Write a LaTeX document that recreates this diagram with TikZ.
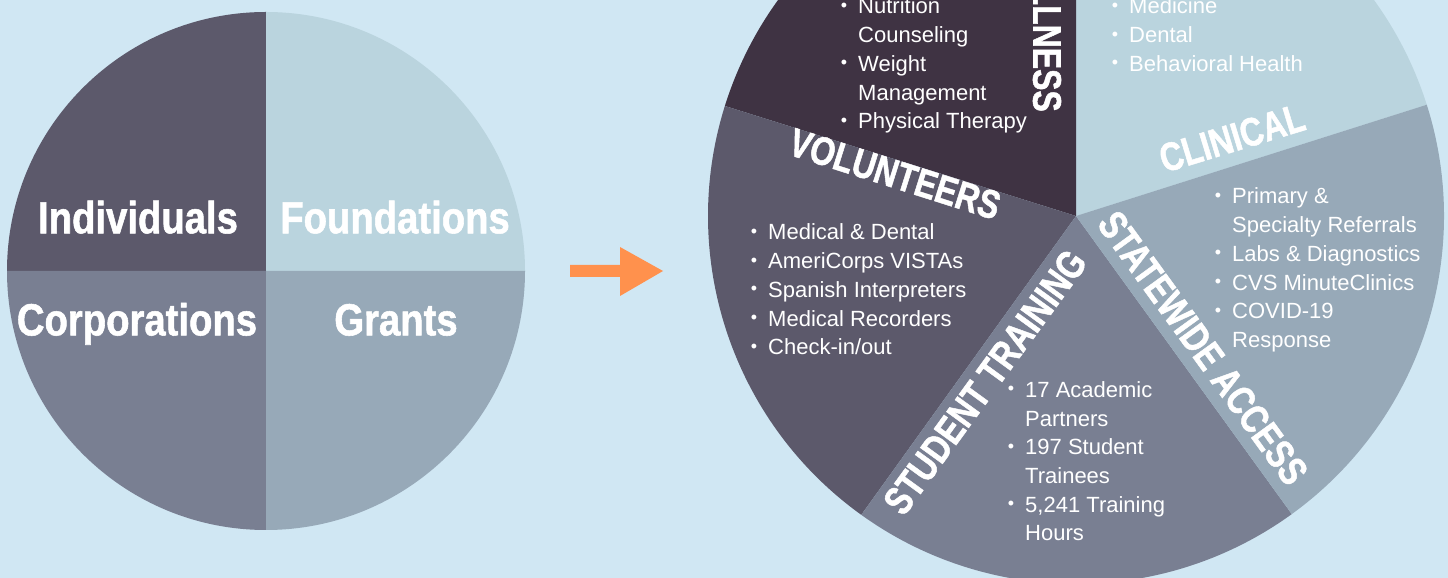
\documentclass[tikz,border=0pt]{standalone}
\usepackage{fontspec}
\setmainfont{Liberation Sans}
\newfontfamily\condfontL[FakeStretch=0.85,FakeBold=1.2]{Liberation Sans}
\newfontfamily\condfontR[FakeStretch=0.8,FakeBold=1.2]{Liberation Sans}
\definecolor{bgcol}{HTML}{D0E7F3}
\definecolor{cIndiv}{HTML}{5C596B}
\definecolor{cFound}{HTML}{BAD4DE}
\definecolor{cCorp}{HTML}{797F92}
\definecolor{cGrant}{HTML}{97A9B8}
\definecolor{cWell}{HTML}{3F3343}
\definecolor{cArrow}{HTML}{FF914D}
\newcommand\lbul{\llap{\raisebox{2.5pt}{\fontsize{18}{18}\selectfont\textbullet}\hspace{11pt}}}
\begin{document}
\begin{tikzpicture}[x=1pt,y=1pt,
  bigl/.style={text=white, font=\condfontL\bfseries\fontsize{45}{50}\selectfont, inner sep=0pt, anchor=base},
  seclabel/.style={text=white, font=\condfontR\bfseries\fontsize{40}{44}\selectfont, inner sep=0pt},
  blist/.style={text=white, font=\fontsize{22}{28.7}\selectfont, inner sep=0pt, anchor=base west}
]
\useasboundingbox (0,0) rectangle (1448,578);
\fill[bgcol] (0,0) rectangle (1448,578);
\clip (0,0) rectangle (1448,578);

% left pie
\coordinate (L) at (266,307);
\fill[cIndiv] (L) -- ++(90:259) arc[start angle=90, end angle=180, radius=259] -- cycle;
\fill[cFound] (L) -- ++(0:259) arc[start angle=0, end angle=90, radius=259] -- cycle;
\fill[cCorp] (L) -- ++(180:259) arc[start angle=180, end angle=270, radius=259] -- cycle;
\fill[cGrant] (L) -- ++(270:259) arc[start angle=270, end angle=360, radius=259] -- cycle;

\node[bigl] (indiv) at (138,344.7) {Individuals};
\node[bigl] (found) at (395,344.7) {Foundations};
\node[bigl] (corp) at (137,242.6) {Corporations};
\node[bigl] (grant) at (396,242.6) {Grants};

% arrow
\fill[cArrow] (570,301) -- (620,301) -- (620,282) -- (663,307) -- (620,331) -- (620,313) -- (570,313) -- cycle;

% right pie
\coordinate (R) at (1076,362);
\def\rr{368}
\fill[cFound] (R) -- ++(17.6:\rr) arc[start angle=17.6, end angle=90, radius=\rr] -- cycle;
\fill[cWell] (R) -- ++(90:\rr) arc[start angle=90, end angle=162.6, radius=\rr] -- cycle;
\fill[cIndiv] (R) -- ++(162.6:\rr) arc[start angle=162.6, end angle=234.3, radius=\rr] -- cycle;
\fill[cCorp] (R) -- ++(234.3:\rr) arc[start angle=234.3, end angle=305.9, radius=\rr] -- cycle;
\fill[cGrant] (R) -- ++(305.9:\rr) arc[start angle=305.9, end angle=377.6, radius=\rr] -- cycle;

% section labels
\node[seclabel, rotate=-90, anchor=east] (well) at (1047,466) {WELLNESS};
\node[seclabel, rotate=17] (clin) at (1232,440) {CLINICAL};
\node[seclabel, rotate=-17.6] (vol) at (895,404) {VOLUNTEERS};
\node[seclabel, rotate=54] (stud) at (985,196) {STUDENT TRAINING};
\node[seclabel, rotate=-54] (state) at (1203,230) {STATEWIDE ACCESS};

% lists
\node[blist] (wlist) at (858,564) {\begin{tabular}[t]{@{}l@{}}\lbul Nutrition\\ Counseling\\ \lbul Weight\\ Management\\ \lbul Physical Therapy\end{tabular}};
\node[blist] (clist) at (1129,564) {\begin{tabular}[t]{@{}l@{}}\lbul Medicine\\ \lbul Dental\\ \lbul Behavioral Health\end{tabular}};
\node[blist] (clist2) at (1232,374) {\begin{tabular}[t]{@{}l@{}}\lbul Primary \&\\ Specialty Referrals\\ \lbul Labs \& Diagnostics\\ \lbul CVS MinuteClinics\\ \lbul COVID-19\\ Response\end{tabular}};
\node[blist] (vlist) at (768,338) {\begin{tabular}[t]{@{}l@{}}\lbul Medical \& Dental\\ \lbul AmeriCorps VISTAs\\ \lbul Spanish Interpreters\\ \lbul Medical Recorders\\ \lbul Check-in/out\end{tabular}};
\node[blist] (slist) at (1025,180.5) {\begin{tabular}[t]{@{}l@{}}\lbul 17 Academic\\ Partners\\ \lbul 197 Student\\ Trainees\\ \lbul 5,241 Training\\ Hours\end{tabular}};
\end{tikzpicture}
\end{document}
